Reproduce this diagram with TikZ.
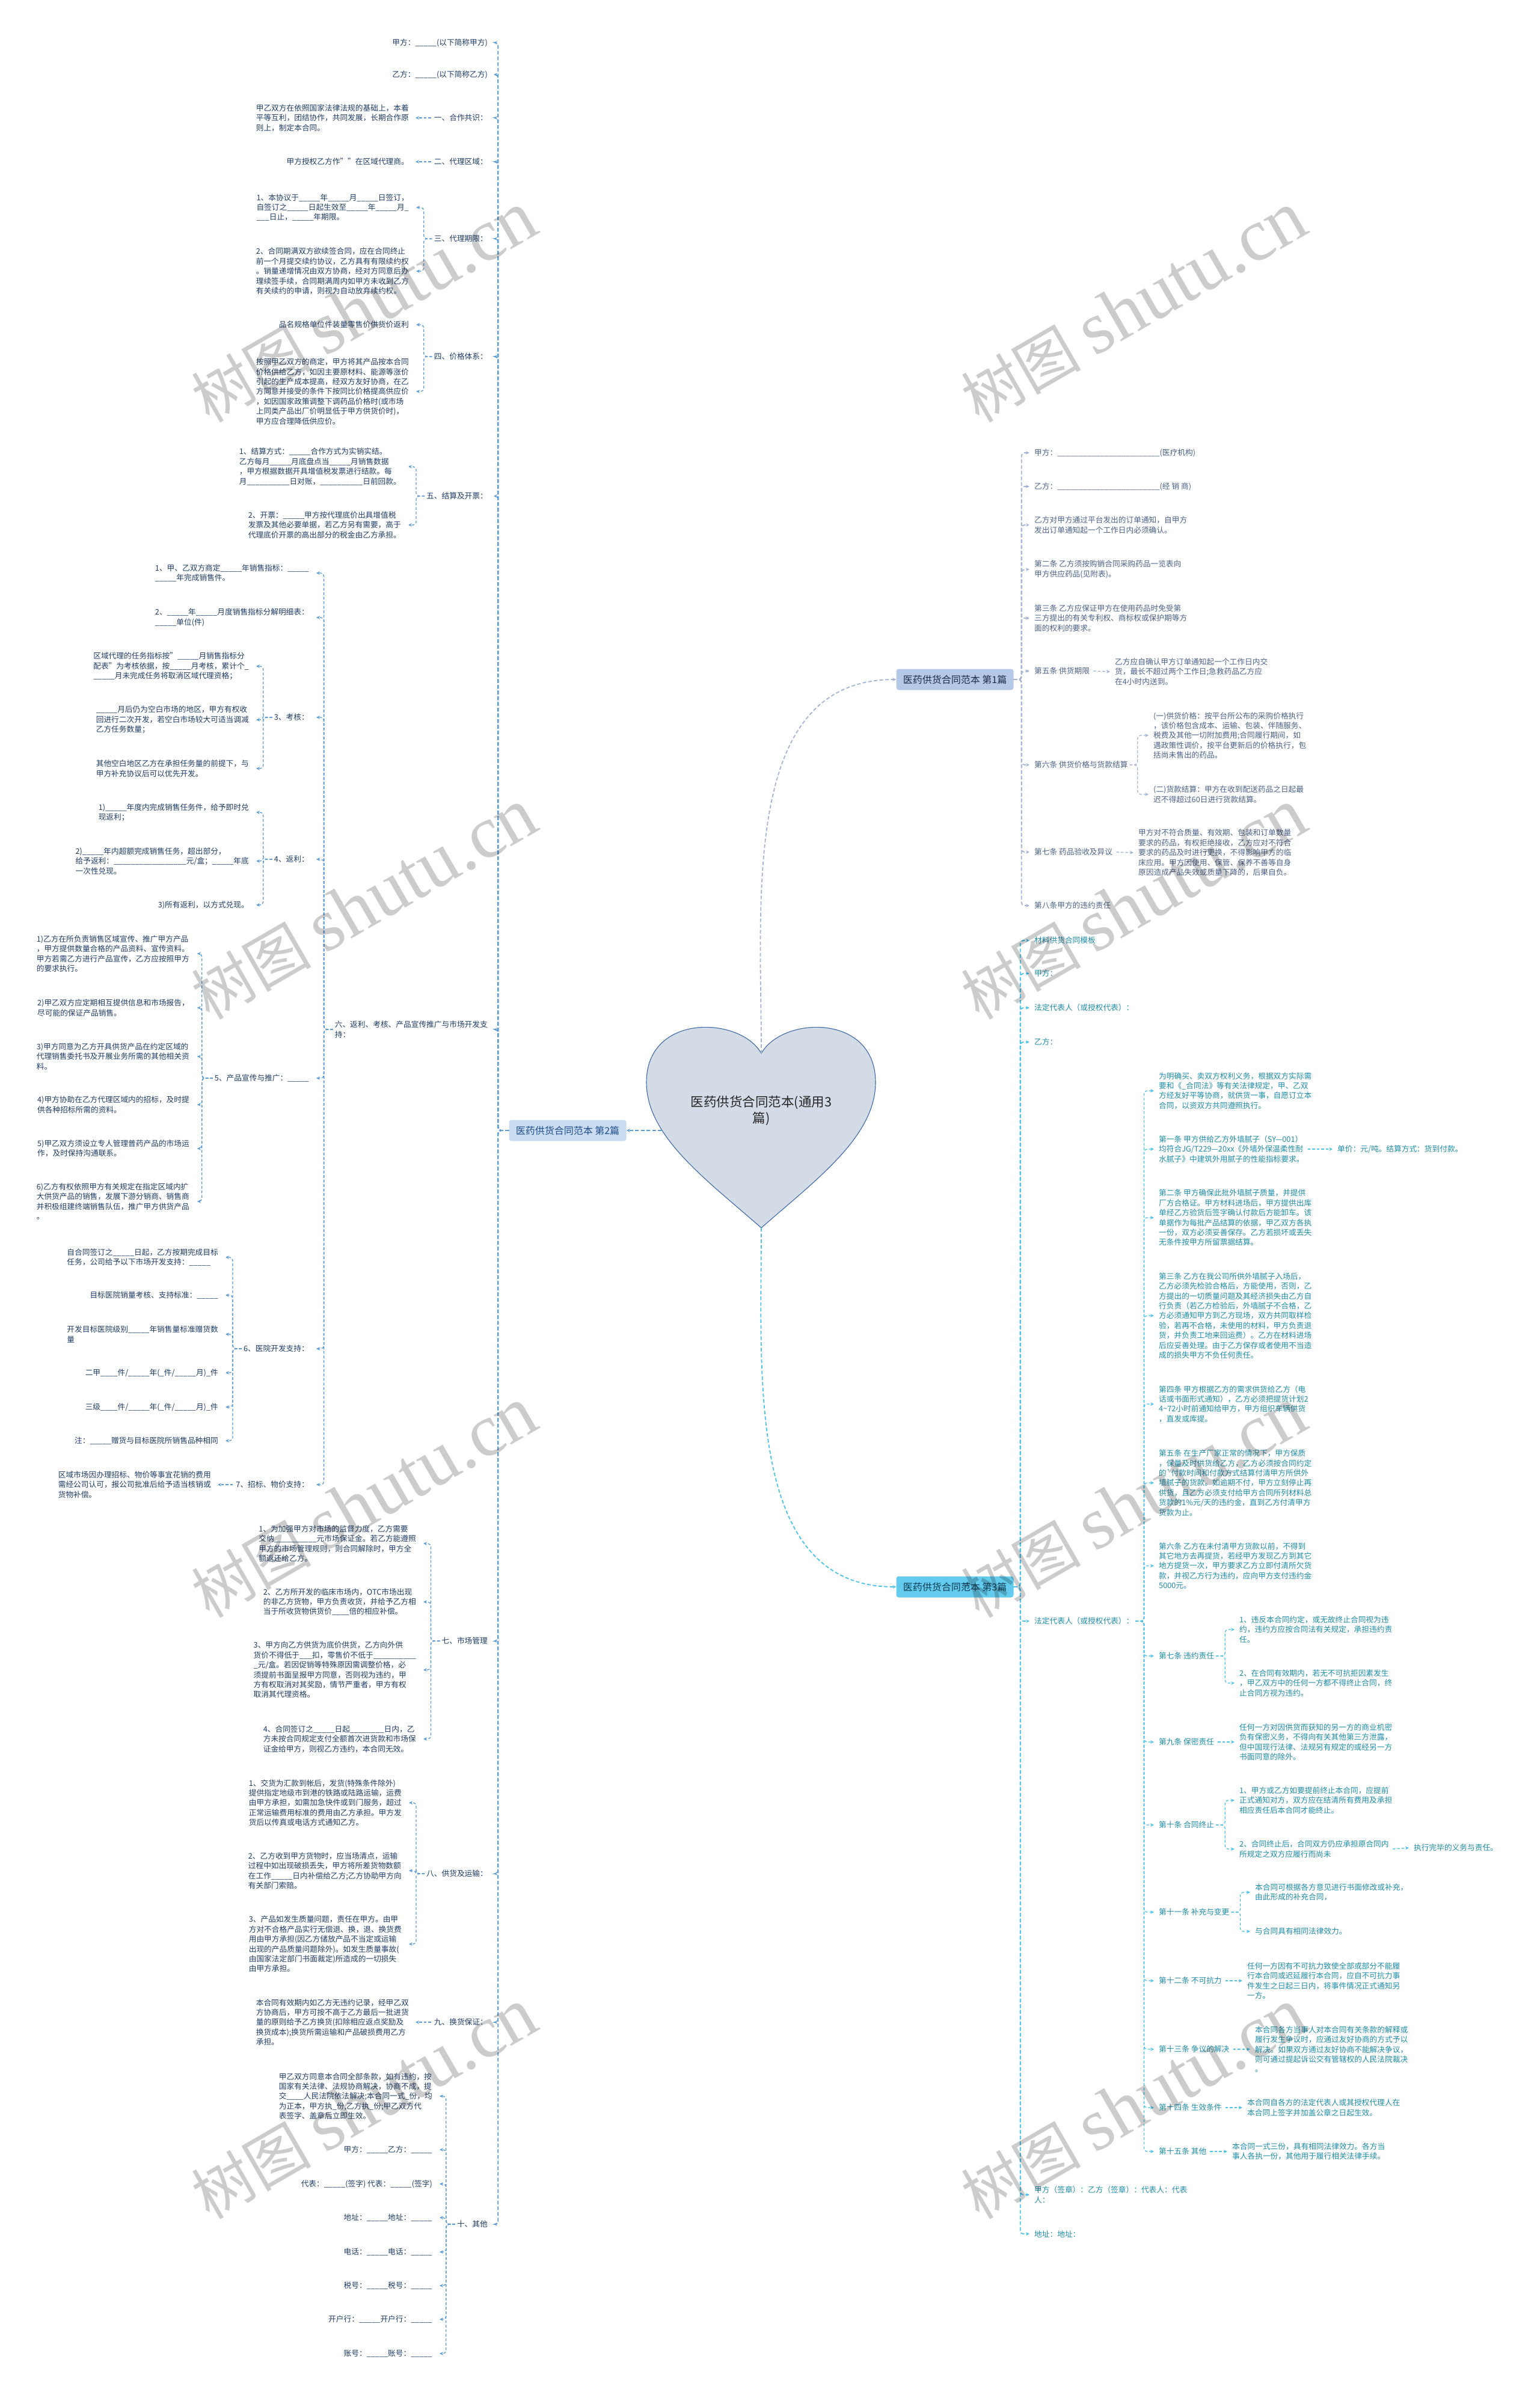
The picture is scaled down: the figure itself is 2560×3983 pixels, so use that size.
\documentclass[tikz,border=0pt]{standalone}
\usepackage{fontspec}
\setmainfont{Noto Sans CJK SC}
\newfontfamily\wmlatin{Liberation Serif}
\usetikzlibrary{arrows.meta}

\definecolor{lblue}{HTML}{5B9BD5}
\definecolor{ltext}{HTML}{1F3D66}
\definecolor{agrey}{HTML}{A3B4D6}
\definecolor{atext}{HTML}{4A6189}
\definecolor{ccyan}{HTML}{4CC3E8}
\definecolor{ctext}{HTML}{1E8CA8}
\definecolor{boxL}{HTML}{CADCF2}
\definecolor{boxLtext}{HTML}{1F4E8C}
\definecolor{boxA}{HTML}{B6C8E8}
\definecolor{boxAtext}{HTML}{1E2B47}
\definecolor{boxC}{HTML}{63CCEE}
\definecolor{boxCtext}{HTML}{0E3B54}
\definecolor{heartfill}{HTML}{D3DBE7}
\definecolor{heartline}{HTML}{3E69A6}

\newcommand\bodyfont{\fontsize{12.7}{16.4}\selectfont}
\newcommand\boxfont{\fontsize{16}{19}\selectfont}
\newcommand\rootfont{\fontsize{21.5}{27}\selectfont}
\newcommand\wmfont{\fontsize{100}{100}\selectfont}
\newcommand\wmlatinfont{\wmlatin\fontsize{124}{124}\selectfont}

\begin{document}
\catcode`\_=12
\begin{tikzpicture}[x=1pt,y=-1pt,
    txtL/.style={font=\bodyfont, text=ltext, inner sep=0pt, align=left, anchor=east},
    txtA/.style={font=\bodyfont, text=atext, inner sep=0pt, align=left, anchor=west},
    txtC/.style={font=\bodyfont, text=ctext, inner sep=0pt, align=left, anchor=west},
    boxbase/.style={font=\boxfont, rounded corners=4pt, minimum width=195pt,
                    minimum height=35pt, inner sep=0pt},
    rootnode/.style={font=\rootfont, text=black!85, align=center, inner sep=0pt},
    trunkL/.style={draw=lblue, line width=1.8pt, dash pattern=on 6pt off 3.5pt,
                   rounded corners=5pt, -{Stealth[length=6pt,width=5.5pt]}},
    branchL/.style={trunkL, line width=1.3pt, dash pattern=on 4.5pt off 3pt},
    trunkA/.style={trunkL, draw=agrey},
    branchA/.style={branchL, draw=agrey},
    trunkC/.style={trunkL, draw=ccyan},
    branchC/.style={branchL, draw=ccyan},
    wmark/.style={font=\wmfont, text=black, text opacity=0.2, rotate=30,
                  anchor=south west, inner sep=0pt},
  ]
  \fill[white] (0,0) rectangle (2560,3983);
  \useasboundingbox (0,0) rectangle (2560,3983);

  % centre heart
  \coordinate (notch) at (1266,1752);
  \coordinate (htip) at (1266,2042);
  \coordinate (hl) at (1100,1880);
  \filldraw[fill=heartfill, draw=heartline, line width=1.1pt]
    (notch) .. controls (1232,1690) and (1075,1684) .. (1075,1800)
    .. controls (1075,1890) and (1175,1962) .. (htip)
    .. controls (1357,1962) and (1456,1890) .. (1456,1800)
    .. controls (1456,1684) and (1300,1690) .. (notch) -- cycle;
  \node[rootnode] (root) at (1266,1847) {医药供货合同范本(通用3\\篇)};

  \node[boxbase, fill=boxL, text=boxLtext] (b2) at (944,1880) {医药供货合同范本 第2篇};
  \node[boxbase, fill=boxA, text=boxAtext] (b1) at (1588,1130) {医药供货合同范本 第1篇};
  \node[boxbase, fill=boxC, text=boxCtext] (b3) at (1588,2639) {医药供货合同范本 第3篇};

  \draw[trunkL] (hl) -- (b2.east);
  \draw[trunkA] (notch) to[out=90,in=180] (b1.west);
  \draw[trunkC] (htip) to[out=-90,in=180] (b3.west);

  % ---- 第2篇 ----
  \node[txtL] (L1a) at (811,71) {甲方：_____(以下简称甲方)};
  \node[txtL] (L1b) at (811,124) {乙方：_____(以下简称乙方)};
  \node[txtL] (L1c) at (811,196) {一、合作共识：};
  \node[txtL] (c1) at (680,196) {甲乙双方在依照国家法律法规的基础上，本着\\平等互利，团结协作，共同发展，长期合作原\\则上，制定本合同。};
  \node[txtL] (L1d) at (811,269) {二、代理区域：};
  \node[txtL] (d1) at (680,269) {甲方授权乙方作""在区域代理商。};
  \node[txtL] (L1e) at (811,397) {三、代理期限：};
  \node[txtL] (e1) at (680,345) {1、本协议于_____年_____月_____日签订，\\自签订之_____日起生效至_____年_____月_\\___日止，_____年期限。};
  \node[txtL] (e2) at (680,451) {2、合同期满双方欲续签合同，应在合同终止\\前一个月提交续约协议，乙方具有有限续约权\\。销量递增情况由双方协商，经对方同意后办\\理续签手续，合同期满周内如甲方未收到乙方\\有关续约的申请，则视为自动放弃续约权。};
  \node[txtL] (L1f) at (811,593) {四、价格体系：};
  \node[txtL] (f1) at (680,540) {品名规格单位件装量零售价供货价返利};
  \node[txtL] (f2) at (680,651) {按照甲乙双方的商定，甲方将其产品按本合同\\价格供给乙方，如因主要原材料、能源等涨价\\引起的生产成本提高，经双方友好协商，在乙\\方同意并接受的条件下按同比价格提高供应价\\，如因国家政策调整下调药品价格时(或市场\\上同类产品出厂价明显低于甲方供货价时)，\\甲方应合理降低供应价。};
  \node[txtL] (L1g) at (811,825) {五、结算及开票：};
  \node[txtL] (g1) at (667,776) {1、结算方式：_____合作方式为实销实结。\\乙方每月_____月底盘点当_____月销售数据\\，甲方根据数据开具增值税发票进行结款。每\\月__________日对账，__________日前回款。};
  \node[txtL] (g2) at (667,873) {2、开票：_____甲方按代理底价出具增值税\\发票及其他必要单据，若乙方另有需要，高于\\代理底价开票的高出部分的税金由乙方承担。};
  \node[txtL] (L1h) at (811,1712) {六、返利、考核、产品宣传推广与市场开发支\\持：};
  \node[txtL] (h1) at (514,953) {1、甲、乙双方商定_____年销售指标：_____\\_____年完成销售件。};
  \node[txtL] (h2) at (514,1027) {2、_____年_____月度销售指标分解明细表：\\_____单位(件)};
  \node[txtL] (h3) at (514,1193) {3、考核：};
  \node[txtL] (h31) at (414,1108) {区域代理的任务指标按"_____月销售指标分\\配表"为考核依据，按_____月考核，累计个_\\_____月未完成任务将取消区域代理资格；};
  \node[txtL] (h32) at (414,1197) {_____月后仍为空白市场的地区，甲方有权收\\回进行二次开发，若空白市场较大可适当调减\\乙方任务数量；};
  \node[txtL] (h33) at (414,1278) {其他空白地区乙方在承担任务量的前提下，与\\甲方补充协议后可以优先开发。};
  \node[txtL] (h4) at (514,1429) {4、返利：};
  \node[txtL] (h41) at (414,1351) {1)_____年度内完成销售任务件，给予即时兑\\现返利；};
  \node[txtL] (h42) at (414,1432) {2)_____年内超额完成销售任务，超出部分，\\给予返利：_________________元/盒；_____年底\\一次性兑现。};
  \node[txtL] (h43) at (414,1505) {3)所有返利，以方式兑现。};
  \node[txtL] (h5) at (514,1793) {5、产品宣传与推广：_____};
  \node[txtL] (h51) at (315,1586) {1)乙方在所负责销售区域宣传、推广甲方产品\\，甲方提供数量合格的产品资料、宣传资料。\\甲方若需乙方进行产品宣传，乙方应按照甲方\\的要求执行。};
  \node[txtL] (h52) at (315,1676) {2)甲乙双方应定期相互提供信息和市场报告，\\尽可能的保证产品销售。};
  \node[txtL] (h53) at (315,1757) {3)甲方同意为乙方开具供货产品在约定区域的\\代理销售委托书及开展业务所需的其他相关资\\料。};
  \node[txtL] (h54) at (315,1837) {4)甲方协助在乙方代理区域内的招标，及时提\\供各种招标所需的资料。};
  \node[txtL] (h55) at (315,1910) {5)甲乙双方须设立专人管理普药产品的市场运\\作，及时保持沟通联系。};
  \node[txtL] (h56) at (315,1998) {6)乙方有权依照甲方有关规定在指定区域内扩\\大供货产品的销售，发展下游分销商、销售商\\并积极组建终端销售队伍，推广甲方供货产品\\。};
  \node[txtL] (h6) at (514,2243) {6、医院开发支持：};
  \node[txtL] (h61) at (363,2091) {自合同签订之_____日起，乙方按期完成目标\\任务，公司给予以下市场开发支持：_____};
  \node[txtL] (h62) at (363,2154) {目标医院销量考核、支持标准：_____};
  \node[txtL] (h63) at (363,2219) {开发目标医院级别_____年销售量标准赠货数\\量};
  \node[txtL] (h64) at (363,2283) {二甲____件/_____年(_件/_____月)_件};
  \node[txtL] (h65) at (363,2340) {三级____件/_____年(_件/_____月)_件};
  \node[txtL] (h66) at (363,2396) {注：_____赠货与目标医院所销售品种相同};
  \node[txtL] (h7) at (514,2469) {7、招标、物价支持：};
  \node[txtL] (h71) at (351,2469) {区域市场因办理招标、物价等事宜花销的费用\\需经公司认可，报公司批准后给予适当核销或\\货物补偿。};
  \node[txtL] (L1i) at (811,2729) {七、市场管理};
  \node[txtL] (i1) at (692,2567) {1、为加强甲方对市场的监督力度，乙方需要\\交纳__________元市场保证金。若乙方能遵照\\甲方的市场管理规则，则合同解除时，甲方全\\额返还给乙方。};
  \node[txtL] (i2) at (692,2664) {2、乙方所开发的临床市场内，OTC市场出现\\的非乙方货物，甲方负责收货，并给予乙方相\\当于所收货物供货价____倍的相应补偿。};
  \node[txtL] (i3) at (692,2777) {3、甲方向乙方供货为底价供货，乙方向外供\\货价不得低于___扣，零售价不低于__________\\_元/盒。若因促销等特殊原因需调整价格，必\\须提前书面呈报甲方同意，否则视为违约，甲\\方有权取消对其奖励，情节严重者，甲方有权\\取消其代理资格。};
  \node[txtL] (i4) at (692,2892) {4、合同签订之_____日起________日内，乙\\方未按合同规定支付全额首次进货款和市场保\\证金给甲方，则视乙方违约，本合同无效。};
  \node[txtL] (L1j) at (811,3116) {八、供货及运输：};
  \node[txtL] (j1) at (668,2998) {1、交货为汇款到帐后，发货(特殊条件除外)\\提供指定地级市到港的铁路或陆路运输，运费\\由甲方承担，如需加急快件或到门服务，超过\\正常运输费用标准的费用由乙方承担。甲方发\\货后以传真或电话方式通知乙方。};
  \node[txtL] (j2) at (668,3111) {2、乙方收到甲方货物时，应当场清点，运输\\过程中如出现破损丢失，甲方将所差货物数额\\在工作_____日内补偿给乙方;乙方协助甲方向\\有关部门索赔。};
  \node[txtL] (j3) at (668,3233) {3、产品如发生质量问题，责任在甲方。由甲\\方对不合格产品实行无偿退、换，退、换货费\\用由甲方承担(因乙方储放产品不当定或运输\\出现的产品质量问题除外)。如发生质量事故(\\由国家法定部门书面裁定)所造成的一切损失\\由甲方承担。};
  \node[txtL] (L1k) at (811,3363) {九、换货保证：};
  \node[txtL] (k1) at (680,3363) {本合同有效期内如乙方无违约记录，经甲乙双\\方协商后，甲方可按不高于乙方最后一批进货\\量的原则给予乙方换货(扣除相应返点奖励及\\换货成本);换货所需运输和产品破损费用乙方\\承担。};
  \node[txtL] (L1l) at (811,3699) {十、其他};
  \node[txtL] (l1) at (719,3486) {甲乙双方同意本合同全部条款，如有违约，按\\国家有关法律、法规协商解决，协商不成，提\\交____人民法院依法解决;本合同一式_份，均\\为正本，甲方执_份,乙方执_份;甲乙双方代\\表签字、盖章后立即生效。};
  \node[txtL] (l2) at (719,3575) {甲方：_____乙方：_____};
  \node[txtL] (l3) at (719,3632) {代表：_____(签字) 代表：_____(签字)};
  \node[txtL] (l4) at (719,3688) {地址：_____地址：_____};
  \node[txtL] (l5) at (719,3745) {电话：_____电话：_____};
  \node[txtL] (l6) at (719,3801) {税号：_____税号：_____};
  \node[txtL] (l7) at (719,3857) {开户行：_____开户行：_____};
  \node[txtL] (l8) at (719,3914) {账号：_____账号：_____};

  \foreach \c in {L1a,L1b,L1c,L1d,L1e,L1f,L1g,L1h,L1i,L1j,L1k,L1l}
    \draw[trunkL] (b2.west) -- ++(-18,0) |- ([xshift=10pt]\c.east);
  \draw[branchL] ([xshift=-5pt]L1c.west) -- ([xshift=11pt]c1.east);
  \draw[branchL] ([xshift=-5pt]L1d.west) -- ([xshift=11pt]d1.east);
  \foreach \c in {e1,e2}
    \draw[branchL] ([xshift=-3pt]L1e.west) -- ++(-14,0) |- ([xshift=12pt]\c.east);
  \foreach \c in {f1,f2}
    \draw[branchL] ([xshift=-3pt]L1f.west) -- ++(-14,0) |- ([xshift=12pt]\c.east);
  \foreach \c in {g1,g2}
    \draw[branchL] ([xshift=-3pt]L1g.west) -- ++(-14,0) |- ([xshift=12pt]\c.east);
  \foreach \c in {h1,h2,h3,h4,h5,h6,h7}
    \draw[branchL] ([xshift=-3pt]L1h.west) -- ++(-15,0) |- ([xshift=12pt]\c.east);
  \foreach \c in {h31,h32,h33}
    \draw[branchL] ([xshift=-3pt]h3.west) -- ++(-15,0) |- ([xshift=12pt]\c.east);
  \foreach \c in {h41,h42,h43}
    \draw[branchL] ([xshift=-3pt]h4.west) -- ++(-15,0) |- ([xshift=12pt]\c.east);
  \foreach \c in {h51,h52,h53,h54,h55,h56}
    \draw[branchL] ([xshift=-3pt]h5.west) -- ++(-18,0) |- ([xshift=13pt]\c.east);
  \foreach \c in {h61,h62,h63,h64,h65,h66}
    \draw[branchL] ([xshift=-3pt]h6.west) -- ++(-15,0) |- ([xshift=12pt]\c.east);
  \draw[branchL] ([xshift=-5pt]h7.west) -- ([xshift=11pt]h71.east);
  \foreach \c in {i1,i2,i3,i4}
    \draw[branchL] ([xshift=-3pt]L1i.west) -- ++(-15,0) |- ([xshift=12pt]\c.east);
  \foreach \c in {j1,j2,j3}
    \draw[branchL] ([xshift=-3pt]L1j.west) -- ++(-14,0) |- ([xshift=12pt]\c.east);
  \draw[branchL] ([xshift=-5pt]L1k.west) -- ([xshift=11pt]k1.east);
  \foreach \c in {l1,l2,l3,l4,l5,l6,l7,l8}
    \draw[branchL] ([xshift=-3pt]L1l.west) -- ++(-15,0) |- ([xshift=12pt]\c.east);

  % ---- 第1篇 ----
  \node[txtA] (r1) at (1720,753) {甲方：________________________(医疗机构)};
  \node[txtA] (r2) at (1720,809) {乙方：________________________(经 销 商)};
  \node[txtA] (r3) at (1720,873) {乙方对甲方通过平台发出的订单通知，自甲方\\发出订单通知起一个工作日内必须确认。};
  \node[txtA] (r4) at (1720,947) {第二条 乙方须按购销合同采购药品一览表向\\甲方供应药品(见附表)。};
  \node[txtA] (r5) at (1720,1028) {第三条 乙方应保证甲方在使用药品时免受第\\三方提出的有关专利权、商标权或保护期等方\\面的权利的要求。};
  \node[txtA] (r6) at (1720,1116) {第五条 供货期限};
  \node[txtA] (r6a) at (1854,1117) {乙方应自确认甲方订单通知起一个工作日内交\\货，最长不超过两个工作日;急救药品乙方应\\在4小时内送到。};
  \node[txtA] (r7) at (1720,1272) {第六条 供货价格与货款结算};
  \node[txtA] (r7a) at (1918,1223) {(一)供货价格：按平台所公布的采购价格执行\\，该价格包含成本、运输、包装、伴随服务、\\税费及其他一切附加费用;合同履行期间，如\\遇政策性调价，按平台更新后的价格执行，包\\括尚未售出的药品。};
  \node[txtA] (r7b) at (1918,1321) {(二)货款结算：甲方在收到配送药品之日起最\\迟不得超过60日进行货款结算。};
  \node[txtA] (r8) at (1720,1417) {第七条 药品验收及异议};
  \node[txtA] (r8a) at (1893,1418) {甲方对不符合质量、有效期、包装和订单数量\\要求的药品，有权拒绝接收，乙方应对不符合\\要求的药品及时进行更换，不得影响甲方的临\\床应用。甲方因使用、保管、保养不善等自身\\原因造成产品失效或质量下降的，后果自负。};
  \node[txtA] (r9) at (1720,1506) {第八条甲方的违约责任};

  \foreach \c in {r1,r2,r3,r4,r5,r6,r7,r8,r9}
    \draw[trunkA] (b1.east) -- ++(13,0) |- ([xshift=-8pt]\c.west);
  \draw[branchA] ([xshift=6pt]r6.east) -- ([xshift=-8pt]r6a.west);
  \foreach \c in {r7a,r7b}
    \draw[branchA] ([xshift=3pt]r7.east) -- ++(13,0) |- ([xshift=-8pt]\c.west);
  \draw[branchA] ([xshift=6pt]r8.east) -- ([xshift=-8pt]r8a.west);

  % ---- 第3篇 ----
  \node[txtC] (t1) at (1720,1564) {材料供货合同模板};
  \node[txtC] (t2) at (1720,1619) {甲方：};
  \node[txtC] (t3) at (1720,1676) {法定代表人（或授权代表）：};
  \node[txtC] (t4) at (1720,1733) {乙方：};
  \node[txtC] (t5) at (1720,2696) {法定代表人（或授权代表）：};
  \node[txtC] (t6) at (1720,3650) {甲方（签章）：乙方（签章）：代表人：代表\\人：};
  \node[txtC] (t7) at (1720,3715) {地址：地址：};

  \node[txtC] (u1) at (1927,1814) {为明确买、卖双方权利义务，根据双方实际需\\要和《_合同法》等有关法律规定，甲、乙双\\方经友好平等协商，就供货一事，自愿订立本\\合同，以资双方共同遵照执行。};
  \node[txtC] (u2) at (1927,1911) {第一条 甲方供给乙方外墙腻子（SY—001）\\均符合JG/T229—20xx《外墙外保温柔性耐\\水腻子》中建筑外用腻子的性能指标要求。};
  \node[txtC] (u2a) at (2224,1911) {单价：元/吨。结算方式：货到付款。};
  \node[txtC] (u3) at (1927,2025) {第二条 甲方确保此批外墙腻子质量，并提供\\厂方合格证。甲方材料进场后，甲方提供出库\\单经乙方验货后签字确认付款后方能卸车。该\\单据作为每批产品结算的依据，甲乙双方各执\\一份，双方必须妥善保存。乙方若损坏或丢失\\无条件按甲方所留票据结算。};
  \node[txtC] (u4) at (1927,2188) {第三条 乙方在我公司所供外墙腻子入场后，\\乙方必须先检验合格后，方能使用，否则，乙\\方提出的一切质量问题及其经济损失由乙方自\\行负责（若乙方检验后，外墙腻子不合格，乙\\方必须通知甲方到乙方现场，双方共同取样检\\验，若再不合格，未使用的材料，甲方负责退\\货，并负责工地来回运费）。乙方在材料进场\\后应妥善处理。由于乙方保存或者使用不当造\\成的损失甲方不负任何责任。};
  \node[txtC] (u5) at (1927,2335) {第四条 甲方根据乙方的需求供货给乙方（电\\话或书面形式通知），乙方必须把提货计划2\\4\textasciitilde 72小时前通知给甲方，甲方组织车辆供货\\，直发或库提。};
  \node[txtC] (u6) at (1927,2466) {第五条 在生产厂家正常的情况下，甲方保质\\，保量及时供货给乙方，乙方必须按合同约定\\的\textasciigrave 付款时间和付款方式结算付清甲方所供外\\墙腻子的货款。如逾期不付，甲方立刻停止再\\供货，且乙方必须支付给甲方合同所列材料总\\货款的1\%元/天的违约金，直到乙方付清甲方\\货款为止。};
  \node[txtC] (u7) at (1927,2604) {第六条 乙方在未付清甲方货款以前，不得到\\其它地方去再提货，若经甲方发现乙方到其它\\地方提货一次，甲方要求乙方立即付清所欠货\\款，并视乙方行为违约，应向甲方支付违约金\\5000元。};
  \node[txtC] (u8) at (1927,2754) {第七条 违约责任};
  \node[txtC] (u8a) at (2061,2710) {1、违反本合同约定，或无故终止合同视为违\\约，违约方应按合同法有关规定，承担违约责\\任。};
  \node[txtC] (u8b) at (2061,2799) {2、在合同有效期内，若无不可抗拒因素发生\\，甲乙双方中的任何一方都不得终止合同，终\\止合同方视为违约。};
  \node[txtC] (u9) at (1927,2897) {第九条 保密责任};
  \node[txtC] (u9a) at (2061,2897) {任何一方对因供货而获知的另一方的商业机密\\负有保密义务，不得向有关其他第三方泄露，\\但中国现行法律、法规另有规定的或经另一方\\书面同意的除外。};
  \node[txtC] (u10) at (1927,3035) {第十条 合同终止};
  \node[txtC] (u10a) at (2061,2994) {1、甲方或乙方如要提前终止本合同，应提前\\正式通知对方，双方应在结清所有费用及承担\\相应责任后本合同才能终止。};
  \node[txtC] (u10b) at (2061,3075) {2、合同终止后，合同双方仍应承担原合同内\\所规定之双方应履行而尚未};
  \node[txtC] (u10c) at (2351,3073) {执行完毕的义务与责任。};
  \node[txtC] (u11) at (1927,3180) {第十一条 补充与变更};
  \node[txtC] (u11a) at (2087,3147) {本合同可根据各方意见进行书面修改或补充，\\由此形成的补充合同，};
  \node[txtC] (u11b) at (2087,3212) {与合同具有相同法律效力。};
  \node[txtC] (u12) at (1927,3294) {第十二条 不可抗力};
  \node[txtC] (u12a) at (2074,3294) {任何一方因有不可抗力致使全部或部分不能履\\行本合同或迟延履行本合同，应自不可抗力事\\件发生之日起三日内，将事件情况正式通知另\\一方。};
  \node[txtC] (u13) at (1927,3408) {第十三条 争议的解决};
  \node[txtC] (u13a) at (2087,3408) {本合同各方当事人对本合同有关条款的解释或\\履行发生争议时，应通过友好协商的方式予以\\解决。如果双方通过友好协商不能解决争议，\\则可通过提起诉讼交有管辖权的人民法院裁决\\。};
  \node[txtC] (u14) at (1927,3505) {第十四条 生效条件};
  \node[txtC] (u14a) at (2074,3505) {本合同自各方的法定代表人或其授权代理人在\\本合同上签字并加盖公章之日起生效。};
  \node[txtC] (u15) at (1927,3578) {第十五条 其他};
  \node[txtC] (u15a) at (2049,3578) {本合同一式三份，具有相同法律效力。各方当\\事人各执一份，其他用于履行相关法律手续。};

  \foreach \c in {t1,t2,t3,t4,t5,t6,t7}
    \draw[trunkC] (b3.east) -- ++(11,0) |- ([xshift=-8pt]\c.west);
  \foreach \c in {u1,u2,u3,u4,u5,u6,u7,u8,u9,u10,u11,u12,u13,u14,u15}
    \draw[branchC] ([xshift=3pt]t5.east) -- ++(14,0) |- ([xshift=-8pt]\c.west);
  \draw[branchC] ([xshift=6pt]u2.east) -- ([xshift=-8pt]u2a.west);
  \foreach \c in {u8a,u8b}
    \draw[branchC] ([xshift=3pt]u8.east) -- ++(15,0) |- ([xshift=-8pt]\c.west);
  \draw[branchC] ([xshift=6pt]u9.east) -- ([xshift=-8pt]u9a.west);
  \foreach \c in {u10a,u10b}
    \draw[branchC] ([xshift=3pt]u10.east) -- ++(15,0) |- ([xshift=-8pt]\c.west);
  \draw[branchC] ([xshift=6pt]u10b.east) -- ([xshift=-8pt]u10c.west);
  \foreach \c in {u11a,u11b}
    \draw[branchC] ([xshift=3pt]u11.east) -- ++(15,0) |- ([xshift=-8pt]\c.west);
  \draw[branchC] ([xshift=6pt]u12.east) -- ([xshift=-8pt]u12a.west);
  \draw[branchC] ([xshift=6pt]u13.east) -- ([xshift=-8pt]u13a.west);
  \draw[branchC] ([xshift=6pt]u14.east) -- ([xshift=-8pt]u14a.west);
  \draw[branchC] ([xshift=6pt]u15.east) -- ([xshift=-8pt]u15a.west);

  % watermark
  \foreach \wx in {352,1632} {
    \foreach \wy in {712,1705,2700,3700} {
      \node[wmark] (wm-\wx-\wy) at (\wx,\wy) {树图 {\wmlatinfont shutu.cn}};
    }
  }
\end{tikzpicture}
\end{document}
